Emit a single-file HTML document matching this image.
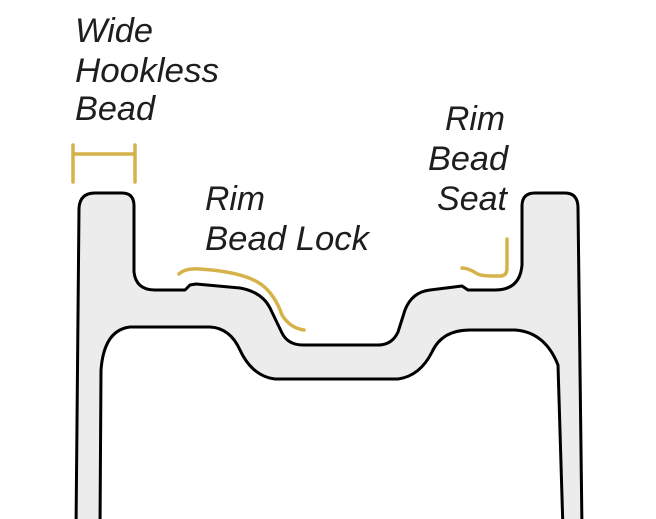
<!DOCTYPE html>
<html><head><style>
html,body{margin:0;padding:0;background:#fff;}
svg{display:block;}
text{font-family:"Liberation Sans",sans-serif;font-style:italic;font-size:34px;fill:#1e1e1e;}
</style></head><body>
<svg width="656" height="519" viewBox="0 0 656 519" xmlns="http://www.w3.org/2000/svg">
<path d="M76,530 L79,208 Q80,193 95,193 L122,193 Q134,193 134,206 L134,272 Q136,290 155,290 L185,290 L190,285 L196,284 L240,288 Q262,292 270,308 L282,333 Q288,345 303,345 L378,345 Q392,345 398,332 L405,310 Q412,292 430,290 L462,286 L468,290 L495,290 Q520,290 522,265 L522,206 Q522,193 535,193 L565,193 Q578,193 578,208 L582,530 Z" fill="#ececec" stroke="#000" stroke-width="3" stroke-linejoin="round"/>
<path d="M100,530 L101,370 Q104,330 130,327 L210,327 Q230,328 240,350 Q252,376 275,379 L398,379 Q420,376 432,352 Q442,330 470,330 L515,330 Q545,332 558,365 L563,530 Z" fill="#fff" stroke="#000" stroke-width="3" stroke-linejoin="round"/>
<g stroke="#d6b24a" stroke-width="3.5" fill="none" stroke-linecap="round">
<path d="M73,145 L73,182 M135,145 L135,182 M73,154 L135,154"/>
<path d="M179,274 Q185,268 200,269 Q245,272 262,285 Q275,295 282,315 Q290,328 304,330"/>
<path d="M462,268 Q468,268 476,273 Q480,276 492,276 L500,276 Q507,276 507,268 L507,239"/>
</g>
<text x="75" y="42" textLength="78" lengthAdjust="spacingAndGlyphs">Wide</text>
<text x="75" y="82" textLength="144" lengthAdjust="spacingAndGlyphs">Hookless</text>
<text x="75" y="120" textLength="80" lengthAdjust="spacingAndGlyphs">Bead</text>
<text x="205" y="210" textLength="60" lengthAdjust="spacingAndGlyphs">Rim</text>
<text x="205" y="250" textLength="164" lengthAdjust="spacingAndGlyphs">Bead Lock</text>
<text x="445" y="130" textLength="60" lengthAdjust="spacingAndGlyphs">Rim</text>
<text x="428" y="170" textLength="80" lengthAdjust="spacingAndGlyphs">Bead</text>
<text x="437" y="210" textLength="70" lengthAdjust="spacingAndGlyphs">Seat</text>
</svg>
</body></html>
